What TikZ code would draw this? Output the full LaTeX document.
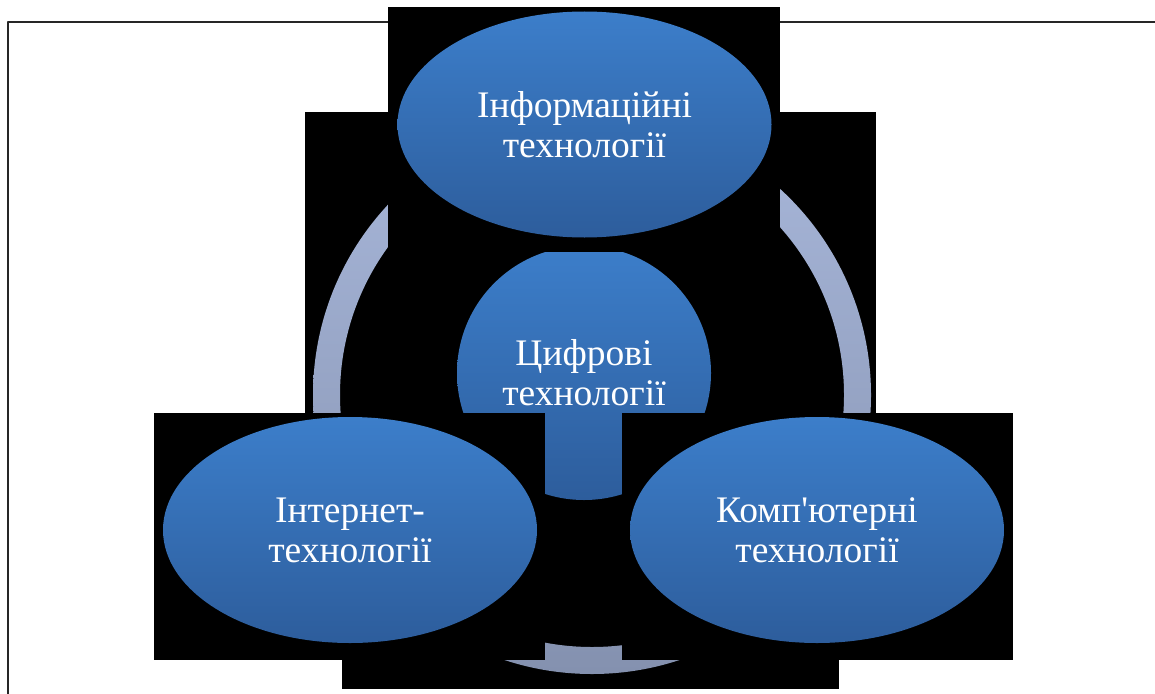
\documentclass[tikz,border=0pt]{standalone}
\usepackage{fontspec}
\setmainfont{Liberation Serif}[Ligatures=TeXOff]
\usepackage{tikz}
\definecolor{bluetop}{RGB}{60,126,202}
\definecolor{bluebot}{RGB}{45,93,156}
\definecolor{ringtop}{RGB}{168,183,218}
\definecolor{ringbot}{RGB}{132,145,175}
\usetikzlibrary{shapes.geometric}
\tikzset{
    bubble/.style = {top color=bluetop, bottom color=bluebot, text=white, align=center,
        font=\fontsize{37.5}{40}\selectfont, inner sep=0pt},
    oval/.style = {bubble, ellipse, minimum width=374pt, minimum height=226pt},
    backbox/.style = {fill=black}
}

\begin{document}
\begin{tikzpicture}[x=1pt,y=-1pt, line join=round]
	\useasboundingbox (0,0) rectangle (1155,693);
	\fill[white] (0,0) rectangle (1155,693);
	\draw[line width=2.6pt, black!85] (8,22) rectangle (1175,715);
	% ring
	\fill[backbox] (305,112) rectangle (876,660);
	\fill[backbox] (342,600) rectangle (839,689);
	\shade[even odd rule, top color=ringtop, bottom color=ringbot] (592,395) circle (279) (592,395) circle (252);
	% centre
	\node[bubble, circle, minimum size=254pt] (cifr) at (584,373) {Цифрові\\технології};
	% outer ovals
	\fill[backbox] (388,7) rectangle (780,252);
	\node[oval] (inform) at (584.5,124.5) {Інформаційні\\технології};
	\fill[backbox] (154,413) rectangle (545,660);
	\node[oval] (internet) at (350,530) {Інтернет-\\технології};
	\fill[backbox] (622,413) rectangle (1013,660);
	\node[oval] (komp) at (817,530) {Комп'ютерні\\технології};
\end{tikzpicture}
\end{document}
